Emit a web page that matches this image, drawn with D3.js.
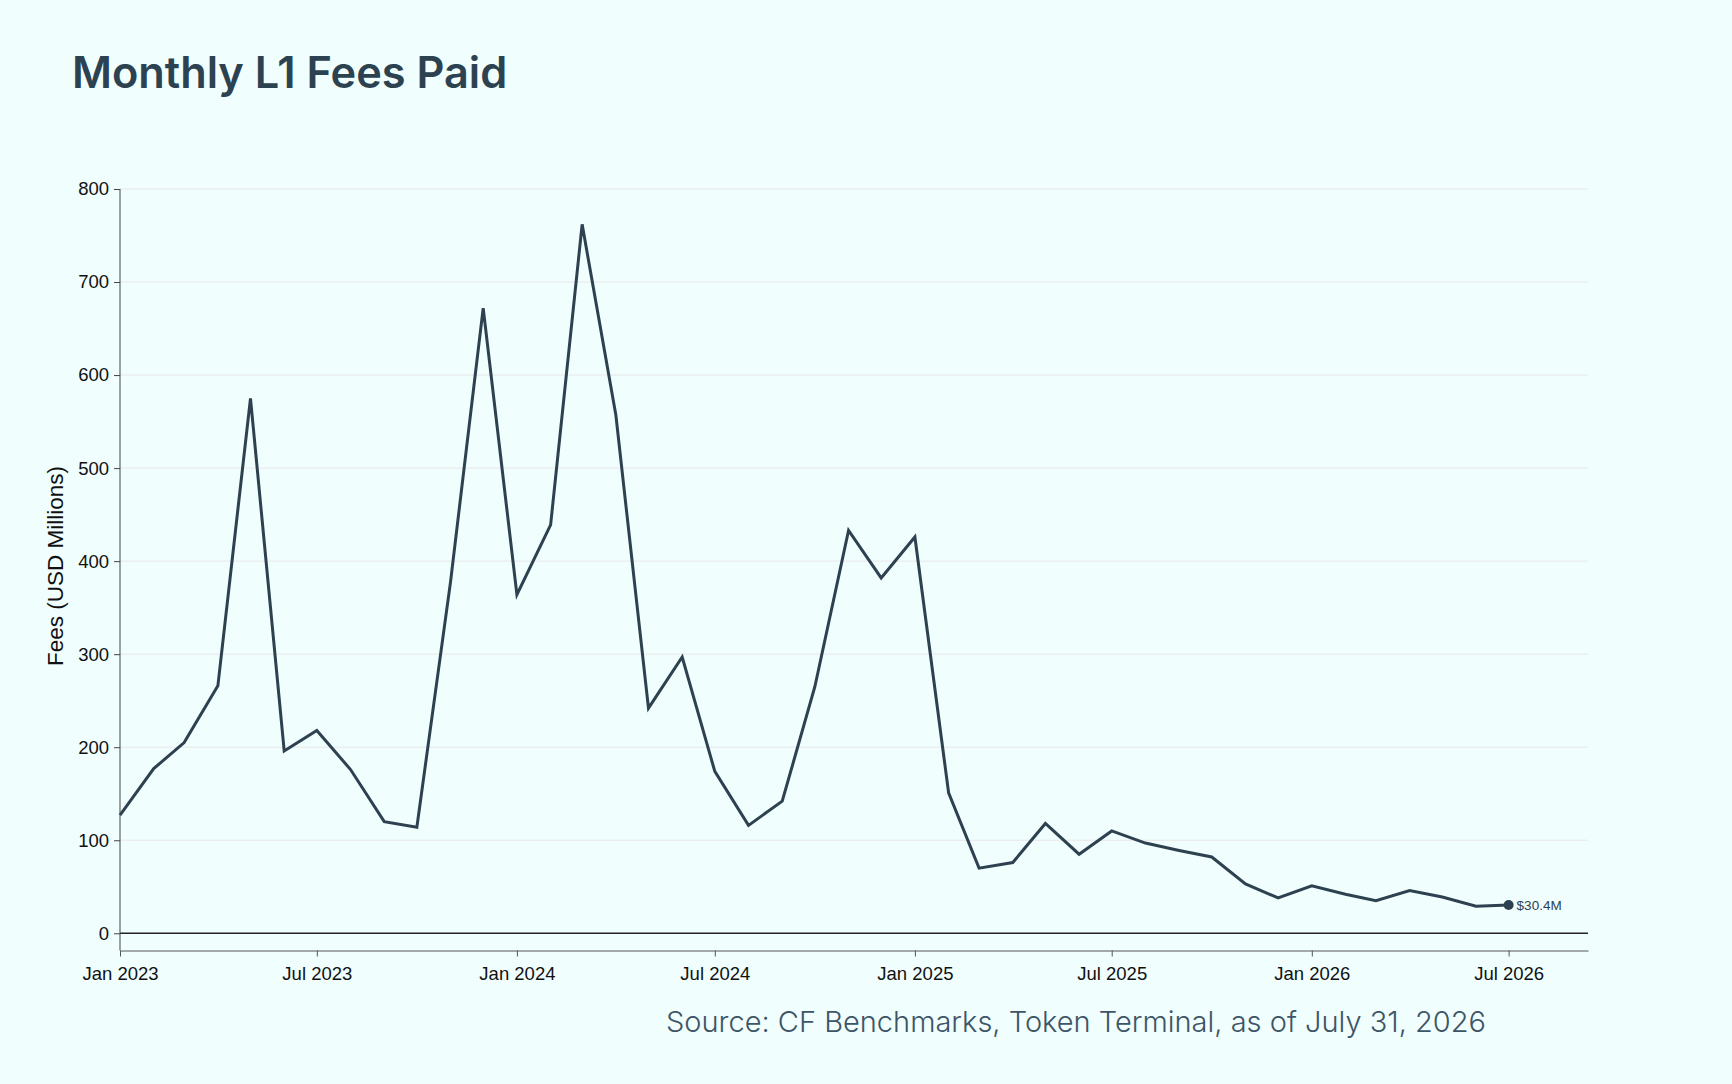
<!DOCTYPE html>
<html lang="en">
<head>
<meta charset="UTF-8">
<title>Monthly L1 Fees Paid</title>
<script src="https://d3js.org/d3.v7.min.js"></script>
<style>
    body { margin: 0; background: #f0fefd; }
    svg { display: block; }
    .title { font-family: Inter, "Noto Sans", sans-serif; font-weight: 600; font-size: 43.3px; fill: #2d4251; }
    .source { font-family: Inter, "Noto Sans", sans-serif; font-weight: 300; font-size: 29px; fill: #3d5566; }
    .axis text { font-family: "Liberation Sans", Arial, sans-serif; font-size: 18.5px; fill: #111; }
    .ylabel { font-family: "Liberation Sans", Arial, sans-serif; font-size: 22.5px; fill: #111; }
    .grid line { stroke: #e9e6ea; stroke-width: 1; }
    .end-label { font-family: "Liberation Sans", Arial, sans-serif; font-size: 13.5px; fill: #2d4251; }
</style>
</head>
<body>
<svg id="chart" width="1732" height="1084"></svg>
<script>
// monthly L1 fees paid, USD millions
var months = ["2023-01", "2023-02", "2023-03", "2023-04", "2023-05", "2023-06",
    "2023-07", "2023-08", "2023-09", "2023-10", "2023-11", "2023-12",
    "2024-01", "2024-02", "2024-03", "2024-04", "2024-05", "2024-06",
    "2024-07", "2024-08", "2024-09", "2024-10", "2024-11", "2024-12",
    "2025-01", "2025-02", "2025-03", "2025-04", "2025-05", "2025-06",
    "2025-07", "2025-08", "2025-09", "2025-10", "2025-11", "2025-12",
    "2026-01", "2026-02", "2026-03", "2026-04", "2026-05", "2026-06", "2026-07"];
var fees = [127, 177, 205, 266, 575, 196, 218, 176, 120, 114, 378, 672,
    364, 439, 762, 557, 242, 297, 174, 116, 142, 265, 433, 382,
    426, 151, 70, 76, 118, 85, 110, 97, 89, 82, 53, 38,
    51, 42, 35, 46, 39, 29, 30.4];
var yTicks = [0, 100, 200, 300, 400, 500, 600, 700, 800];
var lastLabel = "$30.4M";

var parseMonth = d3.timeParse("%Y-%m");
var data = months.map((m, i) => ({ date: parseMonth(m), value: fees[i] }));

var svg = d3.select("#chart");
svg.append("rect").attr("width", 1732).attr("height", 1084).attr("fill", "#f0fefd");

var plotLeft = 120, plotRight = 1588, plotTop = 189, plotBottom = 950.5;

var xScale = d3.scaleTime()
    .domain([parseMonth("2023-01"), new Date(2026, 8, 12)])
    .range([plotLeft, plotRight]);
var yScale = d3.scaleLinear().domain([-18.5, 800]).range([plotBottom, plotTop]);

// gridlines
svg.append("g").attr("class", "grid")
    .selectAll("line")
    .data(yTicks.filter(d => d > 0))
    .enter()
    .append("line")
    .attr("x1", plotLeft).attr("x2", plotRight)
    .attr("y1", d => yScale(d)).attr("y2", d => yScale(d));

// zero line
svg.append("line")
    .attr("x1", plotLeft).attr("x2", plotRight)
    .attr("y1", yScale(0)).attr("y2", yScale(0))
    .attr("stroke", "#222").attr("stroke-width", 1.6);

var yAxis = d3.axisLeft(yScale).tickValues(yTicks).tickSize(6).tickSizeOuter(0).tickPadding(5);
var yG = svg.append("g").attr("class", "axis").attr("transform", `translate(${plotLeft},0)`).call(yAxis);
yG.select(".domain").remove();
yG.selectAll(".tick line").attr("stroke", "#444");
yG.append("line").attr("x1", 0).attr("x2", 0).attr("y1", plotTop).attr("y2", plotBottom)
    .attr("stroke", "#444").attr("stroke-width", 1);

var xAxis = d3.axisBottom(xScale)
    .ticks(d3.timeMonth.every(6))
    .tickFormat(d3.timeFormat("%b %Y"))
    .tickSize(6).tickSizeOuter(0).tickPadding(10);
var xG = svg.append("g").attr("class", "axis").attr("transform", `translate(0,${plotBottom})`).call(xAxis);
xG.select(".domain").attr("stroke", "#555");
xG.selectAll(".tick line").attr("stroke", "#555");

svg.append("text").attr("class", "ylabel")
    .attr("transform", "translate(63,566) rotate(-90)")
    .attr("text-anchor", "middle")
    .text("Fees (USD Millions)");

var line = d3.line().x(d => xScale(d.date)).y(d => yScale(d.value));
svg.append("path").datum(data)
    .attr("d", line)
    .attr("fill", "none")
    .attr("stroke", "#2e4150")
    .attr("stroke-width", 3)
    .attr("stroke-linejoin", "miter");

var last = data[data.length - 1];
svg.append("circle")
    .attr("cx", xScale(last.date)).attr("cy", yScale(last.value))
    .attr("r", 5).attr("fill", "#2e4150");
svg.append("text").attr("class", "end-label")
    .attr("x", xScale(last.date) + 8).attr("y", yScale(last.value))
    .attr("dy", "0.35em")
    .text(lastLabel);

svg.append("text").attr("class", "title").attr("x", 72).attr("y", 88).text("Monthly L1 Fees Paid");
svg.append("text").attr("class", "source").attr("x", 1486).attr("y", 1032)
    .attr("text-anchor", "end")
    .text("Source: CF Benchmarks, Token Terminal, as of July 31, 2026");
</script>
</body>
</html>
